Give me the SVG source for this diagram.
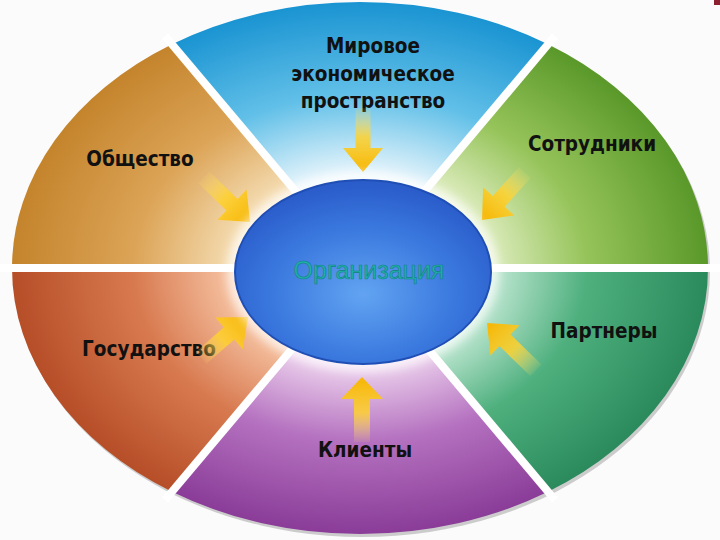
<svg xmlns="http://www.w3.org/2000/svg" width="720" height="540" viewBox="0 0 720 540">
<defs>
<radialGradient id="gBlue" gradientUnits="userSpaceOnUse" cx="360" cy="268" r="348" gradientTransform="translate(360,268) scale(1,0.764) translate(-360,-268)">
<stop offset="0.35" stop-color="#eaf6fc"/><stop offset="0.65" stop-color="#62c0e8"/><stop offset="1" stop-color="#1a94d2"/></radialGradient>
<radialGradient id="gOrange" gradientUnits="userSpaceOnUse" cx="360" cy="268" r="348" gradientTransform="translate(360,268) scale(1,0.764) translate(-360,-268)">
<stop offset="0.35" stop-color="#f6e0b8"/><stop offset="0.65" stop-color="#dca457"/><stop offset="1" stop-color="#c4842c"/></radialGradient>
<radialGradient id="gGreen" gradientUnits="userSpaceOnUse" cx="360" cy="268" r="348" gradientTransform="translate(360,268) scale(1,0.764) translate(-360,-268)">
<stop offset="0.35" stop-color="#e4f0c8"/><stop offset="0.65" stop-color="#96c45a"/><stop offset="1" stop-color="#5a982a"/></radialGradient>
<radialGradient id="gTeal" gradientUnits="userSpaceOnUse" cx="360" cy="268" r="348" gradientTransform="translate(360,268) scale(1,0.764) translate(-360,-268)">
<stop offset="0.35" stop-color="#cdeedd"/><stop offset="0.65" stop-color="#4fb07e"/><stop offset="1" stop-color="#2a8a5c"/></radialGradient>
<radialGradient id="gPurple" gradientUnits="userSpaceOnUse" cx="360" cy="268" r="348" gradientTransform="translate(360,268) scale(1,0.764) translate(-360,-268)">
<stop offset="0.35" stop-color="#f0d8f0"/><stop offset="0.65" stop-color="#b572c0"/><stop offset="1" stop-color="#8a3c98"/></radialGradient>
<radialGradient id="gRed" gradientUnits="userSpaceOnUse" cx="360" cy="268" r="348" gradientTransform="translate(360,268) scale(1,0.764) translate(-360,-268)">
<stop offset="0.35" stop-color="#f8c8a8"/><stop offset="0.65" stop-color="#d87a50"/><stop offset="1" stop-color="#b64e28"/></radialGradient>
<radialGradient id="gCenter" cx="0.5" cy="0.62" r="0.6">
<stop offset="0" stop-color="#62a4f2"/><stop offset="0.6" stop-color="#3a78de"/><stop offset="1" stop-color="#2a5cca"/></radialGradient>
<linearGradient id="gArrow" x1="0" y1="0" x2="1" y2="0">
<stop offset="0" stop-color="#ffe066" stop-opacity="0.1"/><stop offset="0.45" stop-color="#ffd22e" stop-opacity="0.85"/><stop offset="1" stop-color="#f6b400"/></linearGradient>
<filter id="blur" x="-20%" y="-20%" width="140%" height="140%"><feGaussianBlur stdDeviation="5"/></filter>
<filter id="soft" x="-5%" y="-5%" width="110%" height="110%"><feGaussianBlur stdDeviation="0.6"/></filter>
</defs>
<style>
.lbl{font-family:"Liberation Sans Narrow","DejaVu Sans Condensed","Liberation Sans",sans-serif;font-weight:bold;font-size:20.5px;fill:#111;text-anchor:middle}
.ctr{font-family:"Liberation Sans","Arial",sans-serif;font-size:25px;fill:#1fb0a8;stroke:#137f86;stroke-width:0.6;text-anchor:middle}
.sep{stroke:#ffffff;stroke-width:8;fill:none}
.arrow{fill:url(#gArrow)}
</style>
<rect width="720" height="540" fill="#fbfbfb"/>
<rect x="714" y="0" width="6" height="5" fill="#8a2030"/>
<ellipse cx="362" cy="271" rx="348" ry="266" fill="#000" opacity="0.18" filter="url(#soft)"/>
<g id="sector-world">
<path d="M360,268 L172,44.2 A348,266 0 0,1 548,44.2 Z" fill="url(#gBlue)"/>
<text class="lbl" x="373" y="53">Мировое</text>
<text class="lbl" x="373" y="81">экономическое</text>
<text class="lbl" x="373" y="108">пространство</text>
</g>
<g id="sector-employees">
<path d="M360,268 L548,44.2 A348,266 0 0,1 708,268 Z" fill="url(#gGreen)"/>
<text class="lbl" x="592" y="151">Сотрудники</text>
</g>
<g id="sector-partners">
<path d="M360,268 L708,268 A348,266 0 0,1 548,491.8 Z" fill="url(#gTeal)"/>
<text class="lbl" x="604" y="338">Партнеры</text>
</g>
<g id="sector-clients">
<path d="M360,268 L548,491.8 A348,266 0 0,1 172,491.8 Z" fill="url(#gPurple)"/>
<text class="lbl" x="365" y="457">Клиенты</text>
</g>
<g id="sector-state">
<path d="M360,268 L172,491.8 A348,266 0 0,1 12,268 Z" fill="url(#gRed)"/>
<text class="lbl" x="149" y="356">Государство</text>
</g>
<g id="sector-society">
<path d="M360,268 L12,268 A348,266 0 0,1 172,44.2 Z" fill="url(#gOrange)"/>
<text class="lbl" x="140" y="166">Общество</text>
</g>
<g id="separators">
<line class="sep" x1="0" y1="268" x2="720" y2="268"/>
<line class="sep" x1="360" y1="268" x2="165" y2="36"/>
<line class="sep" x1="360" y1="268" x2="555" y2="36"/>
<line class="sep" x1="360" y1="268" x2="165" y2="500"/>
<line class="sep" x1="360" y1="268" x2="555" y2="500"/>
</g>
<g id="connectors">
<polygon class="arrow" transform="translate(363,172) rotate(90)" points="0,0 -24,-20 -24,-7.5 -64,-7.5 -64,7.5 -24,7.5 -24,20"/>
<polygon class="arrow" transform="translate(362,377) rotate(-90)" points="0,0 -22,-21 -22,-8 -65,-8 -65,8 -22,8 -22,21"/>
<polygon class="arrow" transform="translate(250,222) rotate(44)" points="0,0 -25,-21 -25,-8 -64,-8 -64,8 -25,8 -25,21"/>
<polygon class="arrow" transform="translate(482,220) rotate(132)" points="0,0 -25,-21 -25,-8 -64,-8 -64,8 -25,8 -25,21"/>
<polygon class="arrow" transform="translate(248,317) rotate(-41)" points="0,0 -25,-21 -25,-8 -62,-8 -62,8 -25,8 -25,21"/>
<polygon class="arrow" transform="translate(487,323) rotate(-136)" points="0,0 -25,-21 -25,-8 -68,-8 -68,8 -25,8 -25,21"/>
</g>
<g id="center-organization">
<ellipse cx="363" cy="272" rx="136" ry="100" fill="#ffffff" opacity="0.7" filter="url(#blur)"/>
<ellipse cx="363" cy="272" rx="128" ry="92" fill="url(#gCenter)" stroke="#1f4fb4" stroke-width="2"/>
<text class="ctr" x="369" y="279">Организация</text>
</g>
</svg>
